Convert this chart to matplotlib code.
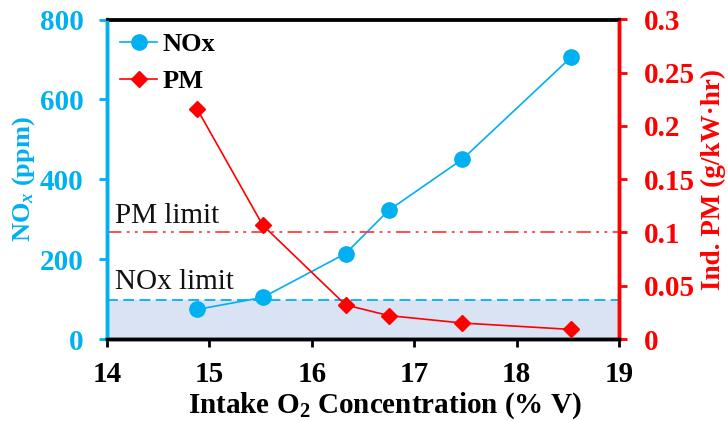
import matplotlib
matplotlib.use("Agg")
import matplotlib.pyplot as plt

plt.rcParams['font.family'] = ['Liberation Serif', 'DejaVu Serif']
plt.rcParams['mathtext.fontset'] = 'custom'
plt.rcParams['mathtext.rm'] = 'Liberation Serif:bold'
plt.rcParams['mathtext.it'] = 'Liberation Serif:italic:bold'
plt.rcParams['mathtext.bf'] = 'Liberation Serif:bold'

# Data
nox_x = [14.88, 15.52, 16.33, 16.75, 17.47, 18.53]
nox_y = [74, 104, 214, 322, 450, 705]
pm_x = [14.88, 15.52, 16.33, 16.75, 17.47, 18.53]
pm_y = [0.216, 0.107, 0.032, 0.022, 0.015, 0.009]
nox_limit = 97
pm_limit = 0.1
x_ticks = [14, 15, 16, 17, 18, 19]
nox_ticks = [0, 200, 400, 600, 800]
pm_ticks = [0, 0.05, 0.1, 0.15, 0.2, 0.25, 0.3]
pm_tick_labels = ['0', '0.05', '0.1', '0.15', '0.2', '0.25', '0.3']

CYAN = '#00B0F0'
RED = '#FF0000'

fig = plt.figure(figsize=(7.28, 4.21), dpi=100)
ax = fig.add_axes([107/728, 1-339/421, (619-107)/728, (339-19.5)/421])
ax2 = ax.twinx()

ax.set_xlim(14, 19)
ax.set_ylim(0, 800)
ax2.set_ylim(0, 0.3)

ax.axhspan(0, nox_limit, color='#DAE3F3', zorder=0)
ax.axhline(nox_limit, color=CYAN, lw=1.3, ls=(0, (6, 3)), zorder=1)
ax2.axhline(pm_limit, color='#FF4040', lw=1.3, ls=(0, (8, 3, 1.5, 3, 1.5, 3)), zorder=1)

l1, = ax.plot(nox_x, nox_y, color=CYAN, lw=1.2, marker='o', ms=11, label='NOx', zorder=3)
l2, = ax2.plot(pm_x, pm_y, color=RED, lw=1.2, marker='D', ms=8.5, label='PM', zorder=3)

ax.text(14.08, nox_limit + 12, 'NOx limit', fontsize=21, color='#111111', va='bottom')
ax2.text(14.08, pm_limit + 0.003, 'PM limit', fontsize=21, color='#111111', va='bottom')

ax.set_xticks(x_ticks)
ax.set_xticklabels([str(t) for t in x_ticks], fontsize=21, fontweight='bold')
ax.set_yticks(nox_ticks)
ax.set_yticklabels([str(t) for t in nox_ticks], fontsize=21, fontweight='bold', color=CYAN)
ax2.set_yticks(pm_ticks)
ax2.set_yticklabels(pm_tick_labels, fontsize=21, fontweight='bold', color=RED)

ax.tick_params(axis='x', direction='out', length=6, width=2, colors='black', pad=10)
ax.tick_params(axis='y', direction='out', length=6, width=2, colors=CYAN, labelcolor=CYAN, pad=11)
ax2.tick_params(axis='y', direction='out', length=6, width=2, colors=RED, labelcolor=RED, pad=12)

for a in (ax, ax2):
    a.spines['top'].set_color('black')
    a.spines['top'].set_linewidth(2)
    a.spines['bottom'].set_color('black')
    a.spines['bottom'].set_linewidth(2.5)
    a.spines['left'].set_color(CYAN)
    a.spines['left'].set_linewidth(2.5)
    a.spines['right'].set_color(RED)
    a.spines['right'].set_linewidth(2.5)

ax.set_xlabel('Intake O$_\\mathrm{2}$ Concentration (% V)', fontsize=21, fontweight='bold')
ax.xaxis.set_label_coords((385 - 107) / 512, -(406 - 339) / 319.5)
ax.xaxis.label.set_va('center')
ax.set_ylabel('NO$_\\mathit{x}$ (ppm)', fontsize=19, fontweight='bold', color=CYAN, labelpad=2)
ax2.set_ylabel('Ind. PM (g/kW·hr)', fontsize=19.5, fontweight='bold', color=RED, labelpad=4)

leg = ax2.legend([l1, l2], ['NOx', 'PM'], loc='upper left', frameon=False,
                 prop={'family': 'Liberation Serif', 'weight': 'bold', 'size': 19},
                 handlelength=1.4, handletextpad=0.2, labelspacing=0.5,
                 borderaxespad=0.1)

fig.savefig('out.png', dpi=100)
